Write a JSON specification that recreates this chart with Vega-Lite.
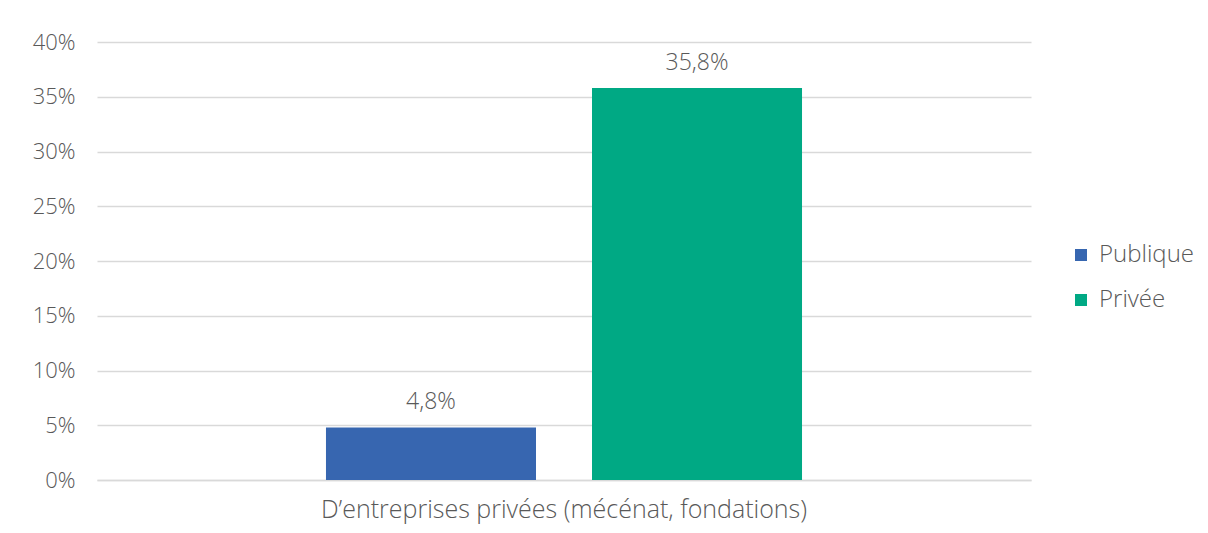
{
  "$schema": "https://vega.github.io/schema/vega-lite/v6.json",
  "width": 934,
  "height": 438,
  "autosize": {"type": "none"},
  "padding": {"left": 97, "top": 42, "right": 177, "bottom": 53},
  "background": "white",
  "config": {
    "locale": {"number": {"decimal": ",", "thousands": " ", "grouping": [3], "currency": ["", " €"], "percent": "%"}},
    "font": "Open Sans",
    "view": {"stroke": null},
    "axis": {"labelFont": "Open Sans", "labelFontSize": 22, "labelFontWeight": 300, "labelColor": "#595959"}
  },
  "data": {"values": [
    {"categorie": "D’entreprises privées (mécénat, fondations)", "secteur": "Publique", "valeur": 0.048},
    {"categorie": "D’entreprises privées (mécénat, fondations)", "secteur": "Privée", "valeur": 0.358}
  ]},
  "encoding": {
    "x": {"field": "categorie", "type": "nominal", "title": null,
      "scale": {"paddingInner": 0, "paddingOuter": 0.481},
      "axis": {"labelAngle": 0, "ticks": false, "domainColor": "#d9d9d9", "domainWidth": 1.5, "labelPadding": 17, "labelLimit": 0, "labelFontSize": 25}},
    "xOffset": {"field": "secteur", "type": "nominal", "sort": ["Publique", "Privée"],
      "scale": {"paddingInner": 0.2105, "paddingOuter": 0}},
    "y": {"field": "valeur", "type": "quantitative", "title": null,
      "scale": {"domain": [0, 0.4], "nice": false},
      "axis": {"values": [0, 0.05, 0.1, 0.15, 0.2, 0.25, 0.3, 0.35, 0.4], "format": ".0%", "ticks": false, "domain": false, "gridColor": "#d9d9d9", "gridWidth": 1.5, "labelPadding": 22}}
  },
  "layer": [
    {
      "mark": {"type": "bar"},
      "encoding": {
        "color": {"field": "secteur", "type": "nominal", "sort": ["Publique", "Privée"],
          "scale": {"domain": ["Publique", "Privée"], "range": ["#3766b0", "#00a984"]},
          "legend": {"title": null, "orient": "none", "legendX": 972, "legendY": 201, "symbolType": "square", "symbolSize": 144, "symbolStrokeWidth": 0, "labelFont": "Open Sans", "labelFontWeight": 300, "labelFontSize": 24, "labelColor": "#595959", "rowPadding": 21, "labelOffset": 6}
        }
      }
    },
    {
      "mark": {"type": "text", "dy": -25, "fontSize": 23, "font": "Open Sans", "fontWeight": 300, "color": "#595959"},
      "encoding": {
        "text": {"field": "valeur", "type": "quantitative", "format": ".1%"}
      }
    }
  ]
}
